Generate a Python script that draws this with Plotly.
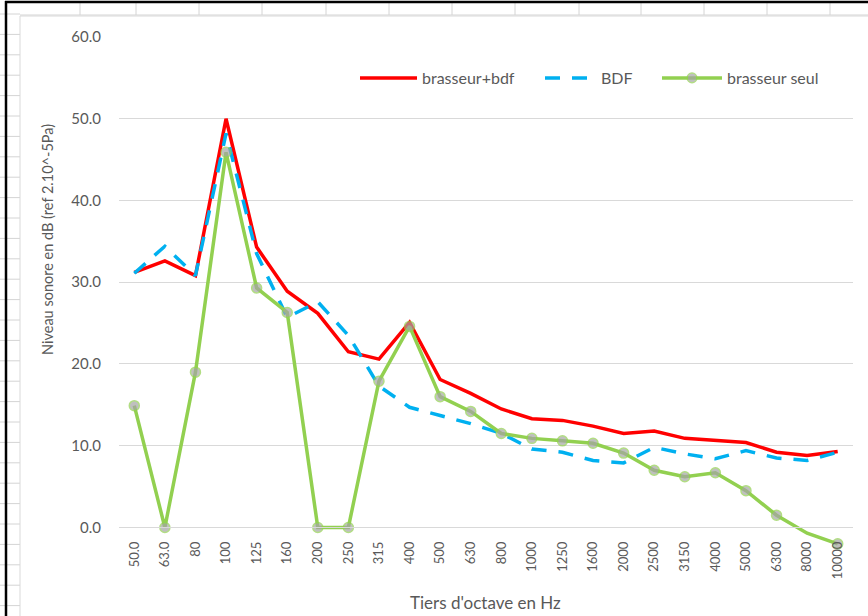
import plotly.graph_objects as go

categories = ["50.0", "63.0", "80", "100", "125", "160", "200", "250", "315", "400",
              "500", "630", "800", "1000", "1250", "1600", "2000", "2500", "3150",
              "4000", "5000", "6300", "8000", "10000"]

brasseur_bdf = [31.2, 32.6, 30.8, 50.0, 34.3, 28.9, 26.2, 21.5, 20.6, 25.1,
                18.1, 16.4, 14.5, 13.3, 13.1, 12.4, 11.5, 11.8, 10.9, 10.6,
                10.4, 9.2, 8.8, 9.3]
bdf = [31.1, 34.4, 30.8, 48.2, 33.5, 25.7, 27.6, 23.5, 17.3, 14.7,
       13.7, 12.7, 11.5, 9.6, 9.2, 8.2, 7.9, 9.8, 9.0, 8.4,
       9.4, 8.5, 8.2, 9.2]
brasseur_seul = [14.9, 0.0, 19.0, 45.9, 29.3, 26.3, 0.0, 0.0, 17.9, 24.6,
                 16.0, 14.2, 11.5, 10.9, 10.6, 10.3, 9.1, 7.0, 6.2, 6.7,
                 4.5, 1.5, -0.7, -2.0]

y_tickvals = [0, 10, 20, 30, 40, 50, 60]
y_ticktext = ["0.0", "10.0", "20.0", "30.0", "40.0", "50.0", "60.0"]

W, H = 868, 616
ML, MR, MT, MB = 119, 15, 37, 64
PW, PH = W - ML - MR, H - MT - MB
YMIN, YMAX = -3, 60


def px(x):
    return (x - ML) / PW


def py(y):
    return 1 - (y - MT) / PH


font_fam = "Lato, 'Open Sans', sans-serif"
grey_txt = "#595959"

# the reference shows no marker on the 8000 Hz point
seul_marker_sizes = [0 if c == "8000" else 10 for c in categories]

fig = go.Figure()
fig.add_trace(go.Scatter(x=categories, y=brasseur_bdf, name="brasseur+bdf", legend="legend",
                         showlegend=True,
                         mode="lines", line=dict(color="#ff0000", width=3.5)))
fig.add_trace(go.Scatter(x=categories, y=bdf, name="BDF", legend="legend2",
                         showlegend=True,
                         mode="lines", line=dict(color="#00b0f0", width=3.5, dash="15px,12px")))
fig.add_trace(go.Scatter(x=categories, y=brasseur_seul, name="brasseur seul", legend="legend3",
                         showlegend=True,
                         mode="lines+markers", line=dict(color="#92d050", width=3.5),
                         marker=dict(color="#a5a5a5", size=seul_marker_sizes,
                                     line=dict(color="#92d050", width=1.5))))

shapes = []
# spreadsheet background decorations
grid_c = "#d4d4d4"
for xv in [80, 136, 199, 262, 326, 389, 452, 515, 579, 641, 704, 767, 830]:
    shapes.append(dict(type="line", xref="paper", yref="paper", x0=px(xv), x1=px(xv),
                       y0=py(2), y1=py(15), line=dict(color=grid_c, width=1), layer="below"))
yy = 14
while yy < H:
    shapes.append(dict(type="line", xref="paper", yref="paper", x0=px(0), x1=px(20),
                       y0=py(yy), y1=py(yy), line=dict(color=grid_c, width=1), layer="below"))
    yy += 20.4
shapes.append(dict(type="line", xref="paper", yref="paper", x0=px(20), x1=px(W),
                   y0=py(15), y1=py(15), line=dict(color=grid_c, width=1), layer="below"))
# chart area
shapes.append(dict(type="rect", xref="paper", yref="paper", x0=px(20), x1=px(W + 5),
                   y0=py(H + 5), y1=py(16), fillcolor="white",
                   line=dict(color="#d9d9d9", width=1), layer="below"))
# black borders
shapes.append(dict(type="line", xref="paper", yref="paper", x0=px(6), x1=px(6),
                   y0=py(1), y1=py(H + 5), line=dict(color="black", width=2.5)))
shapes.append(dict(type="line", xref="paper", yref="paper", x0=px(5), x1=px(W + 5),
                   y0=py(2), y1=py(2), line=dict(color="black", width=2.5)))

annotations = [
    dict(text="Niveau sonore en dB (ref 2.10^-5Pa)", xref="paper", yref="paper",
         x=px(47), y=py(240), textangle=-90, showarrow=False,
         font=dict(family=font_fam, size=14.5, color=grey_txt), xanchor="center", yanchor="middle"),
    dict(text="Tiers d'octave en Hz", xref="paper", yref="paper",
         x=px(485), y=py(602), showarrow=False,
         font=dict(family=font_fam, size=17, color=grey_txt), xanchor="center", yanchor="middle"),
]


def leg(xpix, iw):
    return dict(orientation="h", x=px(xpix), y=py(78), xanchor="left", yanchor="middle",
                font=dict(family=font_fam, size=16, color=grey_txt),
                itemwidth=iw, bgcolor="rgba(0,0,0,0)", visible=True)


fig.update_layout(
    width=W, height=H,
    margin=dict(l=ML, r=MR, t=MT, b=MB),
    paper_bgcolor="white", plot_bgcolor="rgba(0,0,0,0)",
    font=dict(family=font_fam, size=13, color=grey_txt),
    showlegend=True,
    shapes=shapes, annotations=annotations,
    legend=leg(355, 57), legend2=leg(540, 51), legend3=leg(657, 60),
    xaxis=dict(type="category", range=[-0.5, len(categories) - 0.5], showgrid=False,
               anchor="free", position=(0 - YMIN) / (YMAX - YMIN),
               showline=True, linecolor="#d9d9d9", linewidth=1, ticks="",
               tickangle=-90, tickfont=dict(size=13, color=grey_txt), ticklabelstandoff=8),
    yaxis=dict(range=[YMIN, YMAX], tickvals=y_tickvals, ticktext=y_ticktext,
               showgrid=True, gridcolor="#d9d9d9", gridwidth=1, zeroline=False,
               ticks="", tickfont=dict(size=15, color=grey_txt), ticklabelstandoff=17),
)

fig.write_html("out.html", config={"displayModeBar": False},
               post_script="document.body.style.margin='0px';")
